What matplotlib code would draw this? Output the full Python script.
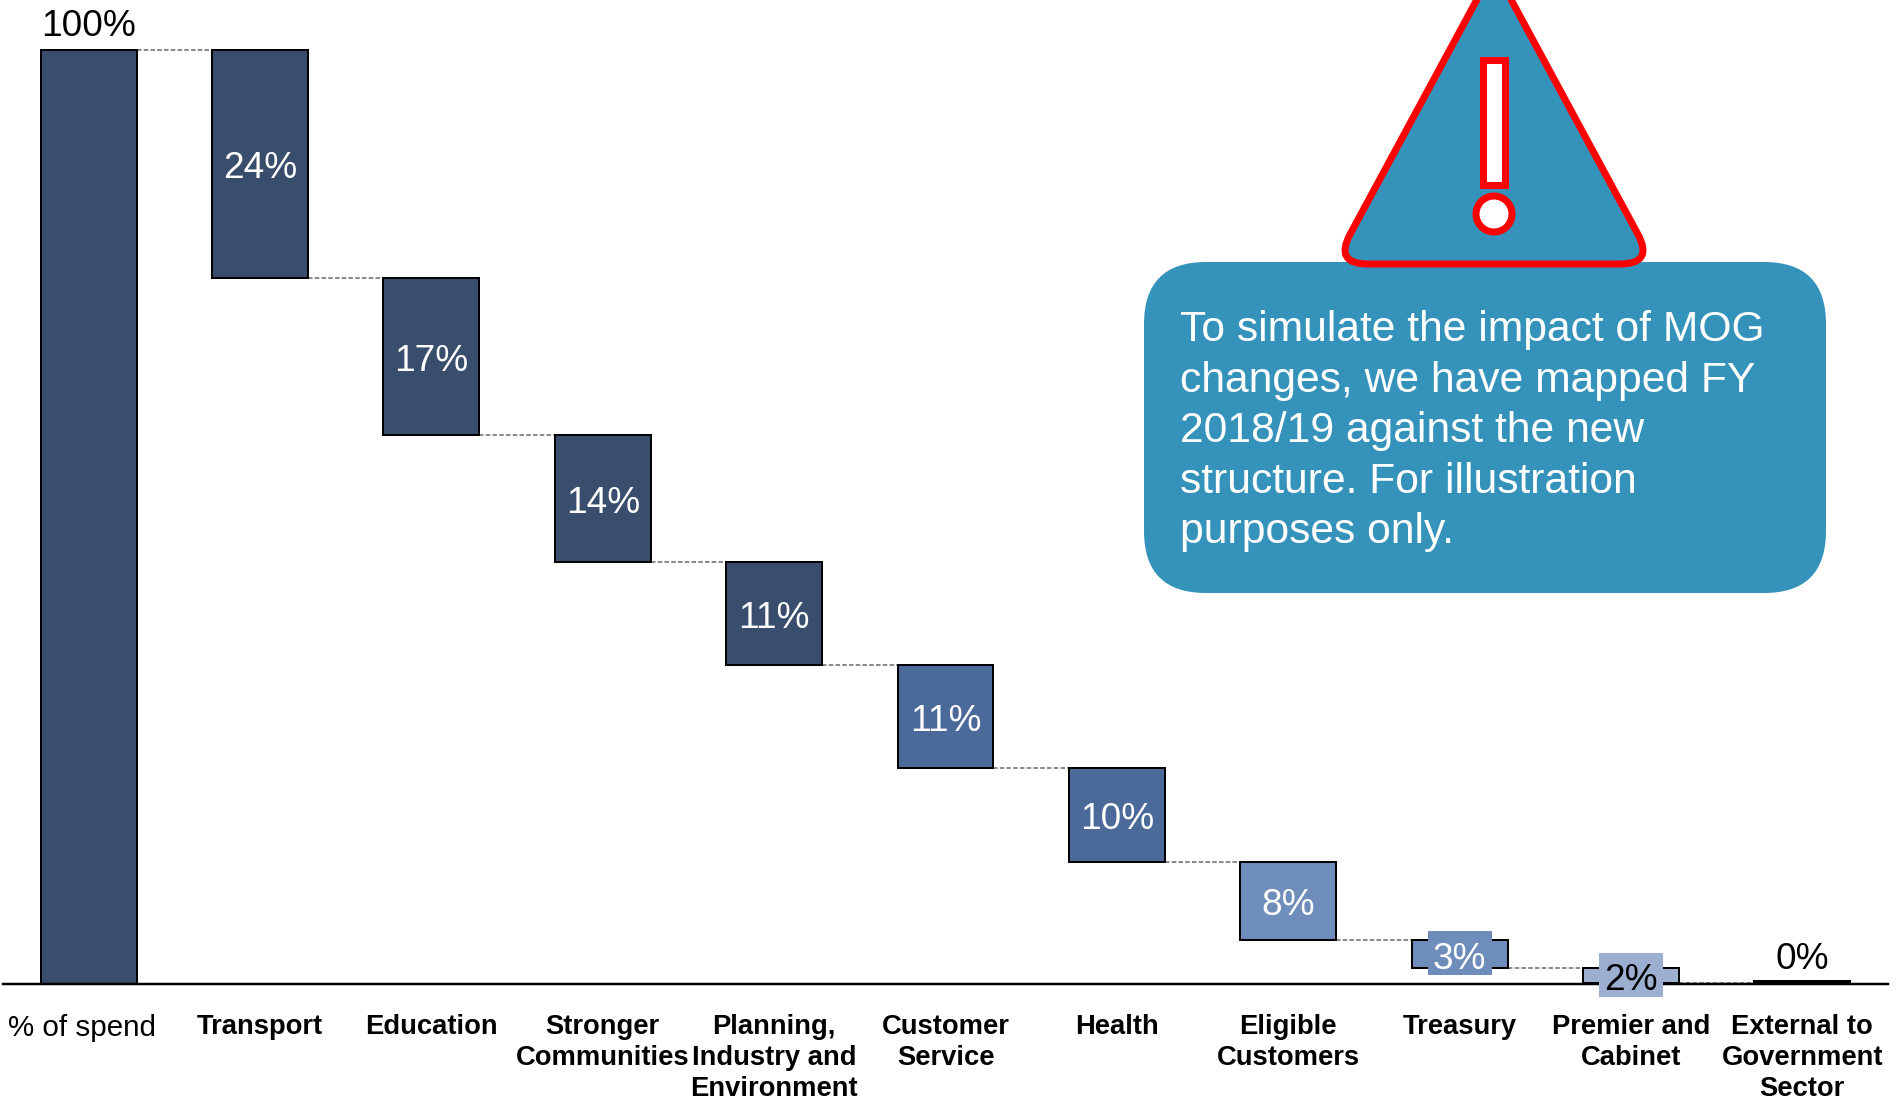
import matplotlib
matplotlib.use("Agg")
import matplotlib.pyplot as plt
from matplotlib.patches import FancyBboxPatch, PathPatch, Rectangle, Circle
from matplotlib.path import Path
from matplotlib.transforms import ScaledTranslation

plt.rcParams['font.family'] = ['Liberation Sans', 'DejaVu Sans']

categories = ["% of spend", "Transport", "Education", "Stronger\nCommunities",
              "Planning,\nIndustry and\nEnvironment", "Customer\nService", "Health",
              "Eligible\nCustomers", "Treasury", "Premier and\nCabinet",
              "External to\nGovernment\nSector"]
values = [100, 24.4, 16.8, 13.6, 11.0, 11.1, 10.0, 8.4, 3.0, 1.6, 0.3]
valueLabels = ["100%", "24%", "17%", "14%", "11%", "11%", "10%", "8%", "3%", "2%", "0%"]
barColors = ["#394D6C", "#394D6C", "#394D6C", "#394D6C", "#394D6C", "#4B6A99",
             "#4B6A99", "#6E8DBB", "#6E8DBB", "#9CAFD0", "#000000"]
labelColors = ["black", "white", "white", "white", "white", "white",
               "white", "white", "white", "black", "black"]
calloutText = ("To simulate the impact of MOG\nchanges, we have mapped FY\n"
               "2018/19 against the new\nstructure. For illustration\npurposes only.")

W, H = 1895, 1100
BLUE = "#3593BB"
RED = "#FF0000"
px = 0.72  # points per pixel at dpi 100


def roundedPolygon(points, radii):
    """closed path through points, each corner cut with a quadratic curve"""
    verts, codes = [], []
    n = len(points)
    for i in range(n):
        x0, y0 = points[i - 1]
        x1, y1 = points[i]
        x2, y2 = points[(i + 1) % n]
        d0 = ((x0 - x1) ** 2 + (y0 - y1) ** 2) ** .5
        d2 = ((x2 - x1) ** 2 + (y2 - y1) ** 2) ** .5
        r = radii[i]
        start = (x1 + (x0 - x1) * r / d0, y1 + (y0 - y1) * r / d0)
        end = (x1 + (x2 - x1) * r / d2, y1 + (y2 - y1) * r / d2)
        verts += [start, (x1, y1), end]
        codes += [Path.MOVETO if i == 0 else Path.LINETO, Path.CURVE3, Path.CURVE3]
    verts.append(verts[0])
    codes.append(Path.CLOSEPOLY)
    return Path(verts, codes)


fig = plt.figure(figsize=(W / 100, H / 100), dpi=100)
ax = fig.add_axes([3 / W, 1 - 984 / H, 1885 / W, 934 / H])
ax.set_xlim(-0.5, 10.5)
ax.set_ylim(0, 100)
barWidth = 0.56

# waterfall: first bar is the total, the rest step down from it
level = 100
bottoms = [0]
for v in values[1:]:
    level -= v
    bottoms.append(max(level, 0))
tops = [b + v for b, v in zip(bottoms, values)]

for i in range(len(values)):
    ax.bar(i, values[i], bottom=bottoms[i], width=barWidth, color=barColors[i],
           edgecolor="black", linewidth=2 * px, clip_on=False, zorder=2)
    if i < len(values) - 1:
        ax.plot([i + barWidth / 2, i + 1 - barWidth / 2], [bottoms[i] if i else 100] * 2,
                color="#666666", ls=(0, (3, 1.5)), lw=1.5 * px, zorder=1, clip_on=False)

for i in range(len(values)):
    mid = bottoms[i] + values[i] / 2
    if i == 0 or i == 10:
        ax.text(i, tops[i] + (0.65 if i == 0 else 0.5), valueLabels[i], ha="center", va="bottom",
                fontsize=37 * px, color=labelColors[i], zorder=4)
        continue
    if i in (8, 9):
        # small bars: label sits on a patch of the bar colour
        ax.add_patch(Rectangle((i - 0.187, mid + 0.1 - 2.35), 0.374, 4.7, facecolor=barColors[i],
                               edgecolor="none", zorder=3, clip_on=False))
    ax.text(i, mid - 0.53, valueLabels[i], ha="center", va="center",
            fontsize=37 * px, color=labelColors[i], zorder=4)

for side in ["left", "right", "top"]:
    ax.spines[side].set_visible(False)
ax.spines["bottom"].set_linewidth(2.5 * px)
ax.set_yticks([])
ax.set_xticks(range(len(categories)))
ax.set_xticklabels(categories, fontsize=27.4 * px, fontweight="bold", linespacing=1.26)
ax.tick_params(axis="x", length=0, pad=21.5)
first = ax.get_xticklabels()[0]
first.set_fontweight("normal")
first.set_fontsize(29.5 * px)
first.set_transform(first.get_transform() + ScaledTranslation(-0.07, 0, fig.dpi_scale_trans))

# callout overlay, in pixel coordinates
over = fig.add_axes([0, 0, 1, 1], zorder=5)
over.set_xlim(0, W)
over.set_ylim(H, 0)
over.axis("off")
over.patch.set_visible(False)

over.add_patch(FancyBboxPatch((1144 + 62, 262 + 62), 682 - 124, 331 - 124,
                              boxstyle="round,pad=62,rounding_size=62",
                              facecolor=BLUE, edgecolor="none", mutation_aspect=1))
tri = roundedPolygon([(1494, -32), (1334, 264), (1654, 264)], [18, 34, 34])
over.add_patch(PathPatch(tri, facecolor=BLUE, edgecolor=RED, lw=7 * px, joinstyle="round"))
over.add_patch(Rectangle((1483, 60), 22, 125, facecolor="white", edgecolor=RED, lw=7 * px))
over.add_patch(Circle((1494, 214), 18, facecolor="white", edgecolor=RED, lw=7 * px))
over.text(1180, 310, calloutText, ha="left", va="top", color="white",
          fontsize=42.6 * px, linespacing=1.34)

fig.savefig("out.png", dpi=100)
